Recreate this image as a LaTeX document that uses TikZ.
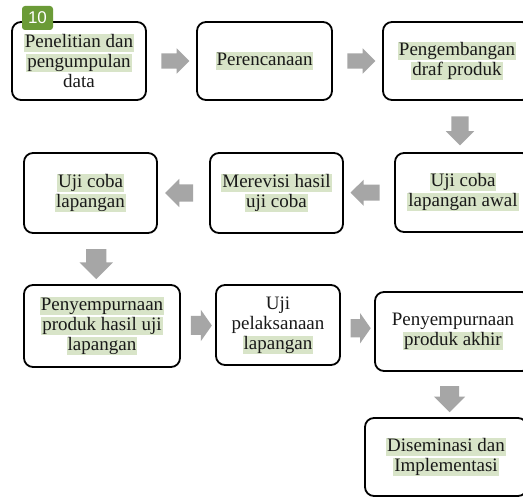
\documentclass[tikz,border=0pt]{standalone}
\usepackage{fontspec}
\setmainfont{Liberation Serif}
\newfontfamily\badgefont{Liberation Sans}
\usetikzlibrary{shapes.arrows,calc}
\definecolor{hlgreen}{RGB}{216,228,200}
\definecolor{arrowgray}{RGB}{166,166,166}
\definecolor{badgegreen}{RGB}{107,155,55}
\definecolor{inkcol}{RGB}{25,25,25}
\newcommand\hlt[1]{{\setlength{\fboxsep}{0pt}\colorbox{hlgreen}{\kern1pt\rule[-4.5pt]{0pt}{18pt}#1\kern1pt}}}
\begin{document}
\begin{tikzpicture}[x=1pt,y=-1pt,
  stepbox/.style={draw=black, line width=1.8pt, rounded corners=9pt, align=center,
    inner sep=0pt, text=inkcol, font=\fontsize{19}{20}\selectfont},
  blockarrow/.style 2 args={single arrow, fill=arrowgray, draw=none, inner xsep=0pt,
    inner ysep={0.3*#2}, minimum height=#1, single arrow head extend={0.2*#2}},
  shorthead/.style={single arrow tip angle=110}]
\useasboundingbox (0,0) rectangle (523,497);
\clip (0,0) rectangle (523,497);
\fill[white] (0,0) rectangle (523,497);
% boxes
\node[stepbox, minimum width=134, minimum height=78] (b1) at (79,61)
  {\hlt{Penelitian dan}\\\hlt{pengumpulan}\\data};
\node[stepbox, minimum width=135, minimum height=78] (b2) at (264.5,61)
  {\hlt{Perencanaan}};
\node[stepbox, minimum width=148, minimum height=78] (b3) at (457,61)
  {\hlt{Pengembangan}\\\hlt{draf produk}};
\node[stepbox, minimum width=136, minimum height=79] (b4) at (463,192.5)
  {\hlt{Uji coba}\\\hlt{lapangan awal}};
\node[stepbox, minimum width=133, minimum height=80] (b5) at (276.5,193)
  {\hlt{Merevisi hasil}\\\hlt{uji coba}};
\node[stepbox, minimum width=133, minimum height=80] (b6) at (90.5,193)
  {\hlt{Uji coba}\\\hlt{lapangan}};
\node[stepbox, minimum width=156, minimum height=82] (b7) at (102,326)
  {\hlt{Penyempurnaan}\\\hlt{produk hasil uji}\\\hlt{lapangan}};
\node[stepbox, minimum width=124, minimum height=80] (b8) at (278,325)
  {Uji\\pelaksanaan\\\hlt{lapangan}};
\node[stepbox, minimum width=156, minimum height=79] (b9) at (453,331.5)
  {Penyempurnaan\\\hlt{produk akhir}};
\node[stepbox, minimum width=162, minimum height=78] (b10) at (446,457)
  {\hlt{Diseminasi dan}\\\hlt{Implementasi}};
% badge
\node[fill=badgegreen, rounded corners=3pt, text=white, inner sep=0pt,
  minimum width=31, minimum height=24, font=\badgefont\fontsize{17}{17}\selectfont]
  (badge) at (37.5,18) {10};
% block arrows
\node[blockarrow={28pt}{25pt}] (a12) at ($(b1.east)!0.5!(b2.west)$) {};
\node[blockarrow={28pt}{25pt}] (a23) at ($(b2.east)!0.5!(b3.west)$) {};
\node[blockarrow={29pt}{28pt}, rotate=-90] (a34) at ($(b3.south)!0.5!(b4.north)$) {};
\node[blockarrow={29pt}{26pt}, rotate=180] (a45) at ($(b4.west)!0.5!(b5.east)$) {};
\node[blockarrow={28pt}{28pt}, rotate=180] (a56) at ($(b5.west)!0.5!(b6.east)$) {};
\node[blockarrow={30pt}{33pt}, rotate=-90] (a67) at ($(b6.south)!0.5!(b7.north)$) {};
\node[blockarrow={21pt}{31pt}, shorthead] (a78) at ($(b7.east)!0.5!(b8.west)$) {};
\node[blockarrow={20pt}{30pt}, shorthead] (a89) at ($(b8.east)!0.5!(b9.west)$) {};
\node[blockarrow={26pt}{31pt}, rotate=-90] (a910) at ($(b9.south)!0.5!(b10.north)$) {};
\end{tikzpicture}
\end{document}
